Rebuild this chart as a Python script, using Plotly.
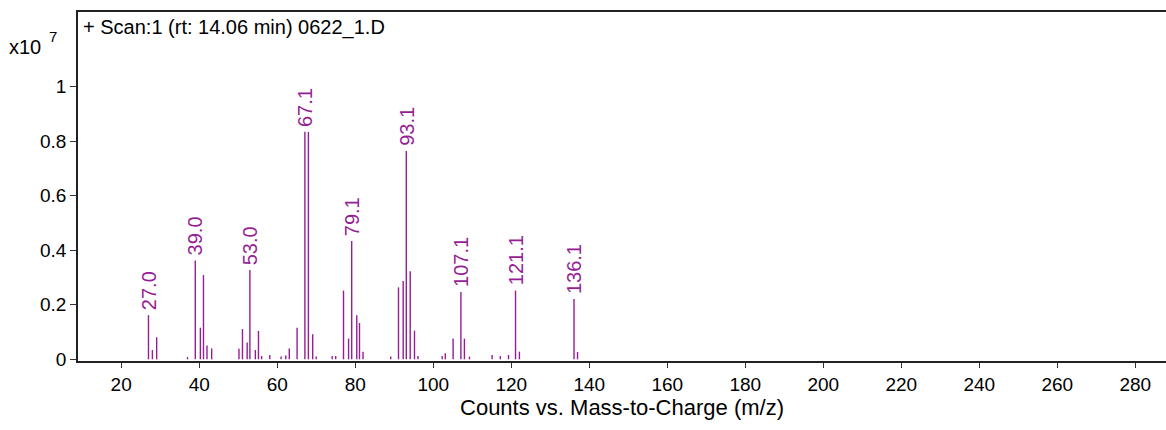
import plotly.graph_objects as go

# m/z values and abundances (x10^7)
mz = [27.0, 28.0, 29.1, 37.0, 39.0, 40.3, 41.1, 42.0, 43.2,
      50.2, 51.1, 52.3, 53.0, 54.4, 55.2, 56.0, 58.1, 61.0, 62.2, 63.1,
      65.1, 67.1, 68.0, 69.1, 70.0, 74.1, 75.0, 77.0, 78.3, 79.1, 80.4, 81.1, 82.0,
      89.1, 91.1, 92.3, 93.1, 94.1, 95.2, 96.1,
      102.3, 103.1, 105.1, 107.1, 108.0, 109.3,
      115.1, 117.2, 119.3, 121.1, 122.1, 136.1, 137.0]
counts = [0.162, 0.034, 0.081, 0.008, 0.362, 0.116, 0.309, 0.051, 0.040,
          0.039, 0.111, 0.062, 0.328, 0.034, 0.104, 0.012, 0.016, 0.010, 0.014, 0.040,
          0.116, 0.835, 0.834, 0.092, 0.010, 0.012, 0.012, 0.252, 0.076, 0.434, 0.162, 0.133, 0.028,
          0.010, 0.264, 0.287, 0.764, 0.323, 0.105, 0.012,
          0.012, 0.022, 0.076, 0.247, 0.076, 0.010,
          0.016, 0.012, 0.016, 0.252, 0.028, 0.221, 0.027]

label_mz = [27.0, 39.0, 53.0, 67.1, 79.1, 93.1, 107.1, 121.1, 136.1]
label_counts = [0.162, 0.362, 0.328, 0.835, 0.434, 0.764, 0.247, 0.252, 0.221]
label_text = ["27.0", "39.0", "53.0", "67.1", "79.1", "93.1", "107.1", "121.1", "136.1"]

x_ticks = list(range(20, 281, 20))
y_ticks = [0, 0.2, 0.4, 0.6, 0.8, 1]
y_tick_text = ["0", "0.2", "0.4", "0.6", "0.8", "1"]

FONT = "Arial, Liberation Sans, sans-serif"
PURPLE = "#951E95"

xs, ys = [], []
for m, c in zip(mz, counts):
    xs += [m, m, None]
    ys += [0, c, None]

fig = go.Figure()
fig.add_trace(go.Scatter(x=xs, y=ys, mode="lines",
                         line=dict(color=PURPLE, width=1.4),
                         hoverinfo="skip", showlegend=False))

for m, c, t in zip(label_mz, label_counts, label_text):
    fig.add_annotation(x=m, y=c, text=t, textangle=-90, showarrow=False,
                       xanchor="center", yanchor="bottom", yshift=3,
                       font=dict(family=FONT, size=20, color=PURPLE))

fig.add_annotation(xref="paper", yref="paper", x=-0.0655, y=0.9,
                   text="x10", showarrow=False, xanchor="left", yanchor="middle",
                   font=dict(family=FONT, size=20, color="#000"))
fig.add_annotation(xref="paper", yref="paper", x=-0.0285, y=0.93,
                   text="7", showarrow=False, xanchor="left", yanchor="middle",
                   font=dict(family=FONT, size=15, color="#000"))
fig.add_annotation(xref="paper", yref="paper", x=0.003, y=0.995,
                   text="+ Scan:1 (rt: 14.06 min) 0622_1.D", showarrow=False,
                   xanchor="left", yanchor="top",
                   font=dict(family=FONT, size=20, color="#000"))

fig.update_layout(
    width=1166, height=430,
    margin=dict(l=78, r=0, t=12, b=69),
    paper_bgcolor="white", plot_bgcolor="white",
    font=dict(family=FONT, size=19, color="#000"),
    xaxis=dict(range=[8.93, 287.87], tickvals=x_ticks, ticks="outside", ticklen=5,
               tickcolor="#333", showgrid=False, zeroline=False,
               showline=True, linecolor="#222", linewidth=2, mirror=True,
               title=dict(text="Counts vs. Mass-to-Charge (m/z)",
                          font=dict(family=FONT, size=22), standoff=6)),
    yaxis=dict(range=[-0.0062, 1.274], tickvals=y_ticks, ticktext=y_tick_text,
               ticks="outside", ticklen=6, tickcolor="#333",
               showgrid=False, zeroline=False,
               showline=True, linecolor="#222", linewidth=1.5),
)

fig.write_html("out.html")
